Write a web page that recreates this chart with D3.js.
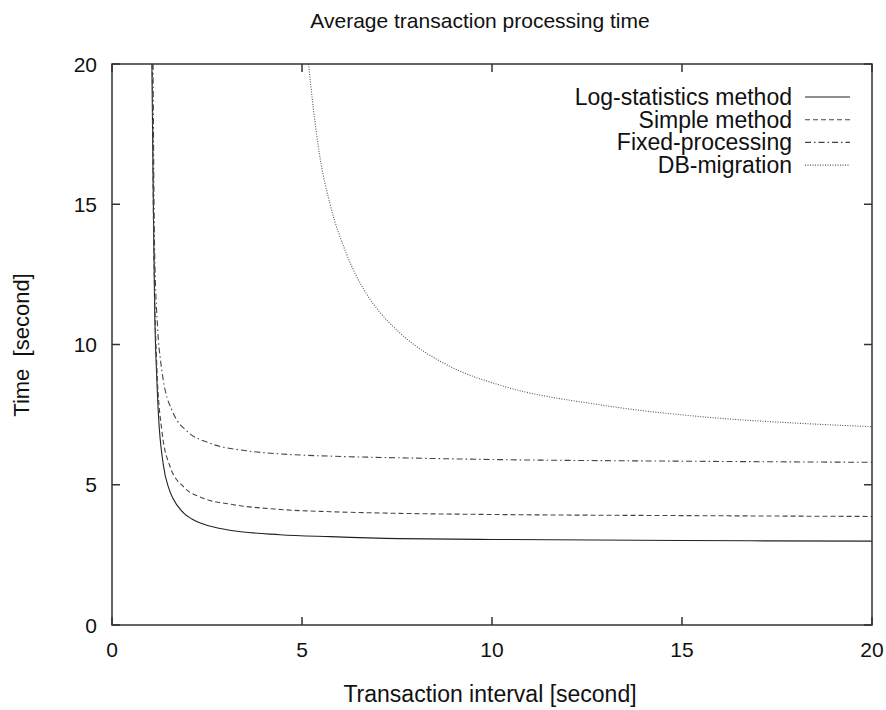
<!DOCTYPE html>
<meta charset="utf-8">
<style>
  body { margin: 0; background: #fff; }
  svg { display: block; font-family: "Liberation Sans", Arial, sans-serif; }
  .frame { fill: none; stroke: #333; stroke-width: 1.5px; }
  .tick-mark { stroke: #333; stroke-width: 1.5px; }
  .lbl { font-size: 22px; fill: #111; }
  .tlbl { font-size: 21px; fill: #111; }
</style>
<body>
<svg width="886" height="710"></svg>
<script src="https://cdn.jsdelivr.net/npm/d3@7"></script>
<script>
  // values: x = transaction interval, y = time
  var logStatsX = [1.05, 1.08, 1.12, 1.18, 1.22, 1.35, 1.5, 1.61, 1.88, 2.1, 2.4, 3.1, 4.42, 5.74, 7.58, 10, 15, 20];
  var logStatsY = [20, 16, 11.5, 8.75, 7.55, 5.72, 4.85, 4.5, 4.0, 3.78, 3.6, 3.38, 3.22, 3.15, 3.08, 3.05, 3.01, 2.99];

  var simpleX = [1.06, 1.09, 1.12, 1.18, 1.31, 1.53, 1.88, 2.4, 3.1, 4.42, 5.74, 7.58, 10, 15, 20];
  var simpleY = [20, 14.5, 11.9, 9.2, 6.95, 5.64, 4.93, 4.52, 4.31, 4.12, 4.04, 3.98, 3.94, 3.9, 3.87];

  var fixedX = [1.08, 1.12, 1.2, 1.28, 1.35, 1.61, 1.96, 2.58, 3.54, 4.42, 5.74, 7.58, 10, 15, 20];
  var fixedY = [20, 13.5, 10.6, 9.4, 8.73, 7.56, 6.93, 6.48, 6.21, 6.1, 6.02, 5.96, 5.9, 5.84, 5.8];

  var dbMigX = [5.17, 5.3, 5.47, 5.74, 6.18, 6.7, 7.05, 7.58, 8.89, 10.21, 12.84, 15.47, 18.1, 20];
  var dbMigY = [20, 18.4, 16.7, 15.0, 13.2, 11.8, 11.15, 10.41, 9.22, 8.55, 7.85, 7.43, 7.19, 7.07];

  var seriesNames = ["Log-statistics method", "Simple method", "Fixed-processing", "DB-migration"];
  var xTicks = [0, 5, 10, 15, 20];
  var yTicks = [0, 5, 10, 15, 20];

  var svg = d3.select("svg"),
    pLeft = 112, pRight = 872, pTop = 64, pBottom = 625;

  var x = d3.scaleLinear().domain([0, 20]).range([pLeft, pRight]);
  var y = d3.scaleLinear().domain([0, 20]).range([pBottom, pTop]);

  var series = [
    { name: seriesNames[0], xs: logStatsX, ys: logStatsY, color: "#222", dash: null },
    { name: seriesNames[1], xs: simpleX, ys: simpleY, color: "#444", dash: "5,3" },
    { name: seriesNames[2], xs: fixedX, ys: fixedY, color: "#444", dash: "6,3,1.5,3" },
    { name: seriesNames[3], xs: dbMigX, ys: dbMigY, color: "#555", dash: "1,1.5" }
  ];

  svg.append("clipPath").attr("id", "clip")
    .append("rect").attr("x", pLeft).attr("y", pTop)
    .attr("width", pRight - pLeft).attr("height", pBottom - pTop);

  var line = d3.line()
    .x(function(d) { return x(d[0]); })
    .y(function(d) { return y(d[1]); })
    .curve(d3.curveMonotoneX);

  svg.append("g").attr("clip-path", "url(#clip)")
    .selectAll("path")
    .data(series)
    .enter().append("path")
    .attr("d", function(s) { return line(d3.zip(s.xs, s.ys)); })
    .attr("fill", "none")
    .attr("stroke", function(s) { return s.color; })
    .attr("stroke-width", 1.1)
    .attr("stroke-dasharray", function(s) { return s.dash; });

  // gnuplot style ticks: inward, mirrored
  var tl = 8;
  var ticks = svg.append("g");
  xTicks.forEach(function(t) {
    ticks.append("line").attr("class", "tick-mark")
      .attr("x1", x(t)).attr("x2", x(t)).attr("y1", pBottom).attr("y2", pBottom - tl);
    ticks.append("line").attr("class", "tick-mark")
      .attr("x1", x(t)).attr("x2", x(t)).attr("y1", pTop).attr("y2", pTop + tl);
    ticks.append("text").attr("class", "tlbl")
      .attr("x", x(t)).attr("y", 657)
      .attr("text-anchor", "middle").text(t);
  });
  yTicks.forEach(function(t) {
    ticks.append("line").attr("class", "tick-mark")
      .attr("x1", pLeft).attr("x2", pLeft + tl).attr("y1", y(t)).attr("y2", y(t));
    ticks.append("line").attr("class", "tick-mark")
      .attr("x1", pRight).attr("x2", pRight - tl).attr("y1", y(t)).attr("y2", y(t));
    ticks.append("text").attr("class", "tlbl")
      .attr("x", 97).attr("y", y(t) + 7.5)
      .attr("text-anchor", "end").text(t);
  });

  svg.append("rect").attr("class", "frame")
    .attr("x", pLeft).attr("y", pTop)
    .attr("width", pRight - pLeft).attr("height", pBottom - pTop);

  // legend
  var leg = svg.append("g").selectAll("g")
    .data(series)
    .enter().append("g")
    .attr("transform", function(d, i) { return "translate(0," + (97 + i * 22.7) + ")"; });
  leg.append("text").attr("class", "lbl")
    .attr("x", 792).attr("y", 8)
    .attr("text-anchor", "end")
    .style("font-size", "23px")
    .text(function(d) { return d.name; });
  leg.append("line")
    .attr("x1", 805).attr("x2", 850)
    .attr("stroke", function(d) { return d.color; })
    .attr("stroke-width", 1.1)
    .attr("stroke-dasharray", function(d) { return d.dash; });

  svg.append("text").attr("class", "lbl")
    .attr("x", 480).attr("y", 28)
    .attr("text-anchor", "middle")
    .style("font-size", "21px")
    .text("Average transaction processing time");

  svg.append("text").attr("class", "lbl")
    .attr("x", 490).attr("y", 702)
    .attr("text-anchor", "middle")
    .style("font-size", "23px")
    .text("Transaction interval [second]");

  svg.append("text").attr("class", "lbl")
    .attr("transform", "translate(29,345) rotate(-90)")
    .attr("text-anchor", "middle")
    .style("white-space", "pre")
    .text("Time  [second]");
</script>
</body>
